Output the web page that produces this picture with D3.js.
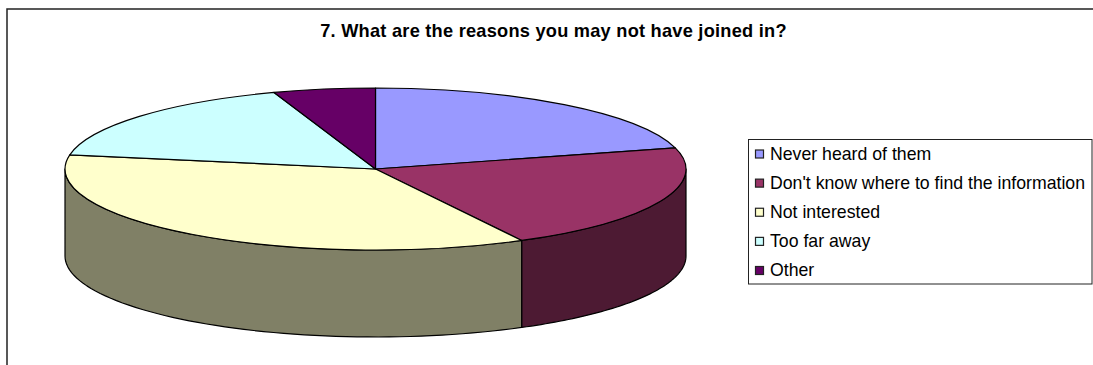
<!DOCTYPE html>
<html>
<head>
<meta charset="utf-8">
<style>
  html, body { margin: 0; padding: 0; background: #fff; }
  svg { display: block; }
  text { font-family: "Liberation Sans", Arial, sans-serif; fill: #000; }
</style>
<script src="https://cdn.jsdelivr.net/npm/d3@7"></script>
</head>
<body>
<svg id="chart" width="1093" height="365"></svg>
<script>
const title = "7. What are the reasons you may not have joined in?";
const categories = ["Never heard of them", "Don't know where to find the information", "Not interested", "Too far away", "Other"];
const shares = [20.8, 21.4, 35.6, 16.9, 5.3];
const topColors = ["#9999ff", "#993366", "#ffffcc", "#ccffff", "#660066"];
const sideColors = ["#4d4d80", "#4d1a33", "#808066", "#668080", "#330033"];

const width = 1093, height = 365;
const cx = 375.5, cy = 169, rx = 310.5, ry = 81, depth = 87;

const svg = d3.select("#chart");

// Chart frame: the right and bottom edges run off the page
svg.append("path")
  .attr("d", d3.line()([[7, height], [7, 9], [width, 9]]))
  .attr("fill", "none").attr("stroke", "#222").attr("stroke-width", 1.5);

svg.append("text")
  .attr("x", 553.5).attr("y", 36.5)
  .attr("text-anchor", "middle")
  .attr("font-size", 18.2).attr("font-weight", "bold")
  .attr("letter-spacing", 0.25)
  .text(title);

const topColor = d3.scaleOrdinal(categories, topColors);
const sideColor = d3.scaleOrdinal(categories, sideColors);

const arcs = d3.pie().sort(null).value((d, i) => shares[i])(categories);

// Pie angle (clockwise from 12 o'clock) projected onto the tilted ellipse
const project = (a, dy = 0) => [cx + rx * Math.sin(a), cy - ry * Math.cos(a) + dy];

// Front wall of the disc, one panel per slice portion facing the viewer
const wallStart = Math.PI / 2, wallEnd = 3 * Math.PI / 2;
const walls = svg.append("g");
arcs.forEach(d => {
  const a0 = Math.max(d.startAngle, wallStart);
  const a1 = Math.min(d.endAngle, wallEnd);
  if (a1 <= a0) return;
  const steps = d3.range(0, 61).map(k => a0 + (a1 - a0) * k / 60);
  const outline = steps.map(a => project(a))
    .concat(steps.slice().reverse().map(a => project(a, depth)));
  walls.append("path")
    .attr("d", d3.line()(outline) + "Z")
    .attr("fill", sideColor(d.data))
    .attr("stroke", "#000").attr("stroke-width", 1.2).attr("stroke-linejoin", "round");
});

// Top face: a flat d3.arc pie squashed vertically into the ellipse
const arcGen = d3.arc().innerRadius(0).outerRadius(rx);
svg.append("g")
  .attr("transform", `translate(${cx},${cy}) scale(1,${ry / rx})`)
  .selectAll("path")
  .data(arcs)
  .join("path")
  .attr("d", arcGen)
  .attr("fill", d => topColor(d.data))
  .attr("stroke", "#000").attr("stroke-width", 1.2)
  .attr("stroke-linejoin", "round")
  .attr("vector-effect", "non-scaling-stroke");

// Legend
const legendRow = d3.scalePoint(categories, [153.5, 270]);
const legend = svg.append("g");
legend.append("rect")
  .attr("x", 748.5).attr("y", 139.5).attr("width", 343.5).attr("height", 144.5)
  .attr("fill", "#fff").attr("stroke", "#222").attr("stroke-width", 1);
const rows = legend.selectAll("g.row").data(categories).join("g").attr("class", "row")
  .attr("transform", d => `translate(0,${legendRow(d)})`);
rows.append("rect")
  .attr("x", 755.5).attr("y", -3.5).attr("width", 8).attr("height", 8)
  .attr("fill", d => topColor(d)).attr("stroke", "#222").attr("stroke-width", 1.2);
rows.append("text")
  .attr("x", 770).attr("y", 6)
  .attr("font-size", 17.7)
  .text(d => d);
</script>
</body>
</html>
